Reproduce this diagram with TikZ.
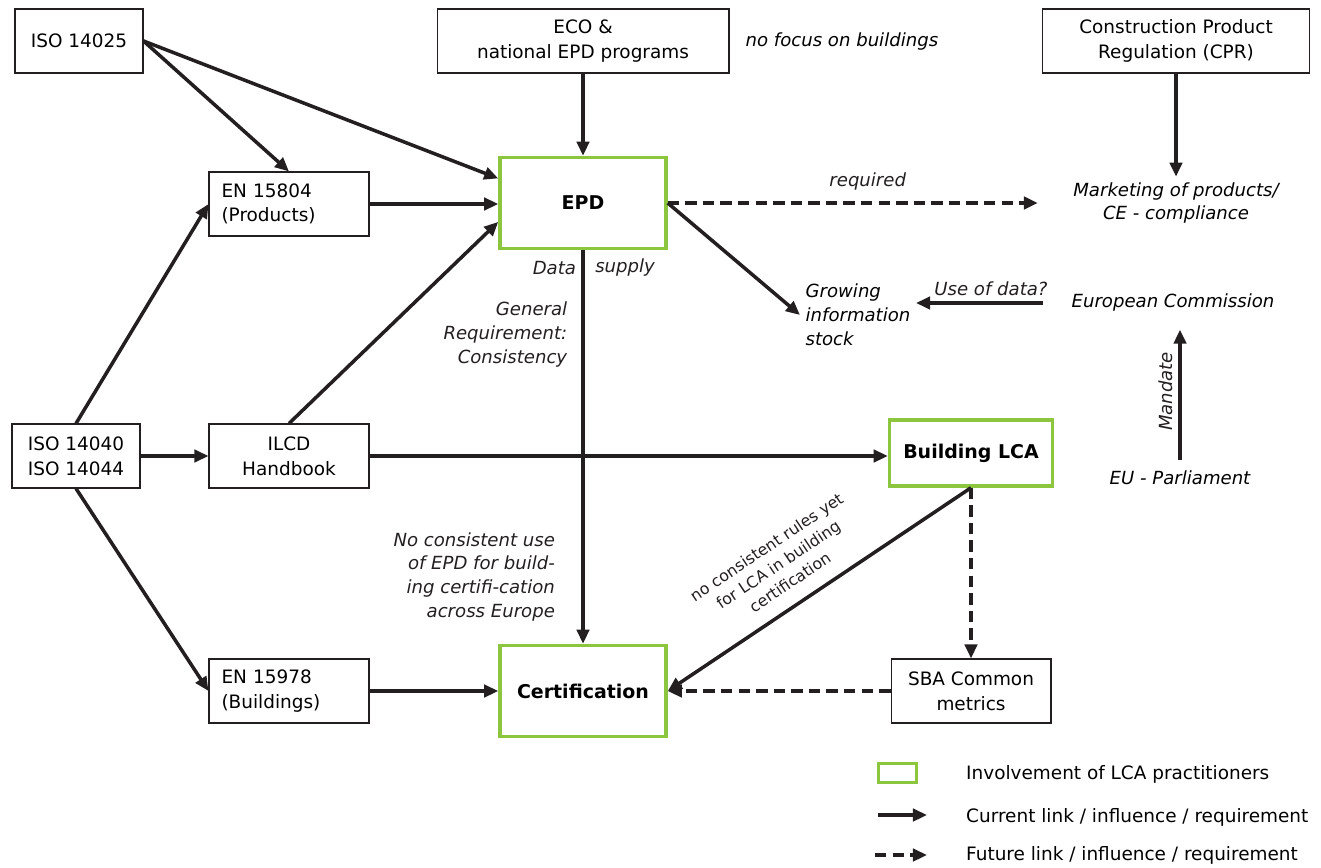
\documentclass[tikz,border=0pt]{standalone}
\usepackage{fontspec}
\setmainfont{DejaVu Sans}
\usetikzlibrary{arrows.meta,calc}
\definecolor{lcagreen}{HTML}{8CC63E}
\definecolor{inkblack}{HTML}{231F20}

\begin{document}
\begin{tikzpicture}[x=0.02cm,y=-0.02cm,font=\fontsize{10.5}{14}\selectfont,
  box/.style={draw=inkblack,line width=.6pt,minimum width=3.2cm,minimum height=1.28cm,align=center,inner sep=2pt},
  lcabox/.style={draw=lcagreen,line width=2pt,minimum width=3.32cm,minimum height=1.82cm,font=\fontsize{10.8}{14}\selectfont\bfseries},
  note/.style={font=\fontsize{10.3}{13.6}\selectfont\itshape,inner sep=3pt},
  arr/.style={-{Triangle[length=8pt,width=7pt]},line width=2pt,inkblack},
  futarr/.style={arr,dash pattern=on 6.5pt off 3.5pt}]
\useasboundingbox (0,0) rectangle (1321,868);
% top row
\node[box,minimum width=2.56cm] (iso25) at (79,41) {ISO 14025};
\node[box,minimum width=5.84cm] (eco) at (583,41) {ECO \&\\national EPD programs};
\node[note,anchor=west] (nofocus) at (740,42) {no focus on buildings};
\node[box,minimum width=5.34cm] (cpr) at (1176,41) {Construction Product\\Regulation (CPR)};
% EPD row
\node[box,align=left,text width=2.7cm] (en804) at (289,204) {EN 15804\\(Products)};
\node[lcabox] (epd) at (583,203) {EPD};
\node[note,align=center] (mkt) at (1176,203) {Marketing of products/\\CE - compliance};
\node[note,align=left,anchor=west] (grow) at (800,315) {Growing\\information\\stock};
\node[note,anchor=west] (ec) at (1066,303) {European Commission};
\node[note] (parl) at (1180,478) {EU - Parliament};
% middle row
\node[box,minimum width=2.56cm] (iso40) at (76,456) {ISO 14040\\ISO 14044};
\node[box] (ilcd) at (289,456) {ILCD\\Handbook};
\node[lcabox,minimum width=3.26cm,minimum height=1.32cm] (blca) at (971,453) {Building LCA};
% bottom row
\node[box,align=left,text width=2.7cm] (en978) at (289,691) {EN 15978\\(Buildings)};
\node[lcabox] (cert) at (583,691) {Certification};
\node[box] (sba) at (971,691) {SBA Common\\metrics};

% current links
\draw[arr] (iso25.east) -- (en804.north);
\draw[arr] (iso25.east) -- ($(epd.north west)!.24!(epd.south west)$);
\draw[arr] (eco) -- (epd);
\draw[arr] (en804.east) -- (en804.east -| epd.west);
\draw[arr] (ilcd.north) -- ($(epd.north west)!.7!(epd.south west)$);
\draw[arr] (iso40.north) -- (en804.west);
\draw[arr] (iso40.east) -- (ilcd.west);
\draw[arr] (iso40.south) -- (en978.west);
\draw[arr] (ilcd.east) -- (ilcd.east -| blca.west);
\draw[arr] (en978) -- (cert);
\draw[arr] (cpr) -- (mkt);
\draw[arr] (epd.east) -- (grow.west);
\draw[arr,shorten <=13pt] (ec.west) -- (ec.west -| grow.east) node[midway,above,note] {Use of data?};
\draw[arr,shorten <=3pt,shorten >=7pt] (parl.north) -- (parl.north |- ec.south) node[midway,sloped,above,note] {Mandate};
\draw[arr] (epd) -- (cert)
  node[pos=.045,left,note] {Data}
  node[pos=.045,right=3pt,note] {supply}
  node[pos=.215,left=5pt,note,align=right] {General\\Requirement:\\Consistency}
  node[pos=.83,left=12pt,note,align=right] {No consistent use\\of EPD for build-\\ing certifi-cation\\across Europe};
\draw[arr] (blca.south) -- (cert.east)
  node[pos=.556,sloped,above=5pt,font=\fontsize{9}{12}\selectfont,align=center] {no consistent rules yet\\for LCA in building\\certification};
% future links
\draw[futarr,shorten >=17pt] (epd.east) -- (epd.east -| mkt.west) node[pos=.5,above=3pt,note] {required};
\draw[futarr] (blca.south) -- (sba.north);
\draw[futarr] (sba) -- (cert);

% legend
\node[draw=lcagreen,line width=2pt,minimum width=.76cm,minimum height=.38cm,inner sep=0pt] (lgbox) at (897.5,773) {};
\node[anchor=west] (lgtxt1) at (960,774) {Involvement of LCA practitioners};
\coordinate (lgcurA) at (878,815);
\coordinate (lgcurB) at (927,815);
\draw[arr] (lgcurA) -- (lgcurB);
\node[anchor=west] (lgtxt2) at (960,817) {Current link / influence / requirement};
\coordinate (lgfutA) at (875,855);
\coordinate (lgfutB) at (927,855);
\draw[futarr] (lgfutA) -- (lgfutB);
\node[anchor=west] (lgtxt3) at (960,855) {Future link / influence / requirement};
\end{tikzpicture}
\end{document}
